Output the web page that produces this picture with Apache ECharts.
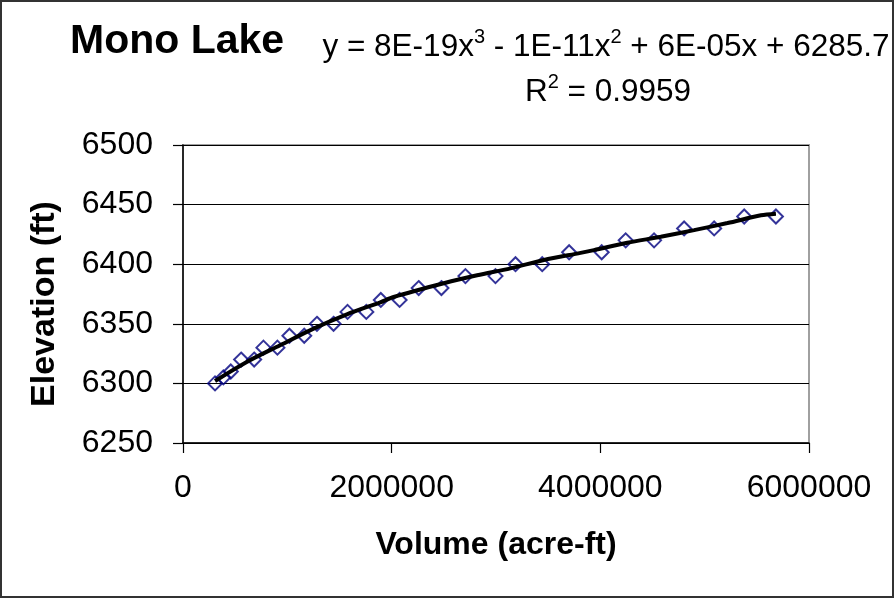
<!DOCTYPE html>
<html>
<head>
<meta charset="utf-8">
<script src="https://cdn.jsdelivr.net/npm/echarts@6/dist/echarts.min.js"></script>
<style>
html,body{margin:0;padding:0;background:#fff;}
#chart{width:894px;height:598px;}
</style>
</head>
<body>
<div id="chart"></div>
<script>
// Observed points: volume (acre-ft) and elevation (ft)
var volumes = [307000, 387000, 458000, 557000, 682000, 771000, 905000, 1020000, 1162000, 1284000, 1443000, 1577000, 1757000, 1896000, 2076000, 2259000, 2477000, 2707000, 2995000, 3187000, 3443000, 3701000, 4013000, 4243000, 4515000, 4803000, 5091000, 5379000, 5683000];
var elevations = [6300, 6305, 6310, 6320, 6320, 6330, 6330, 6340, 6340, 6350, 6350, 6360, 6360, 6370, 6370, 6380, 6380, 6390, 6390, 6400, 6400, 6410, 6410, 6420, 6420, 6430, 6430, 6440, 6440];
// Trend line
var trendVolumes = [307000, 611000, 931000, 1251000, 1571000, 1891000, 2019000, 2499000, 2819000, 3139000, 3459000, 3811000, 3939000, 4259000, 4579000, 4899000, 5219000, 5539000, 5683000];
var trendElevations = [6302, 6318, 6332, 6346, 6358, 6368, 6372.5, 6384, 6390.7, 6396.5, 6403.5, 6409.5, 6411.8, 6418, 6423, 6428.6, 6434.5, 6441, 6442.4];
var xTicks = [0, 2000000, 4000000, 6000000];
var yTicks = [6250, 6300, 6350, 6400, 6450, 6500];

var FONT = "'Liberation Sans', Arial, sans-serif";
var pts = volumes.map(function (v, i) { return [v, elevations[i]]; });
var trend = trendVolumes.map(function (v, i) { return [v, trendElevations[i]]; });

var chart = echarts.init(document.getElementById('chart'), null, {renderer: 'canvas'});
chart.setOption({
  animation: false,
  backgroundColor: '#fff',
  grid: {left: 183, right: 85, top: 145, bottom: 155, show: true, borderColor: '#a0a0a0', borderWidth: 2, backgroundColor: '#fff'},
  xAxis: {
    type: 'value', min: xTicks[0], max: xTicks[xTicks.length - 1], interval: 2000000,
    axisLine: {show: true, onZero: false, lineStyle: {color: '#000', width: 1.5}},
    axisTick: {show: true, inside: false, length: 10, lineStyle: {color: '#000', width: 1.2}},
    axisLabel: {color: '#000', fontSize: 32, fontFamily: FONT, margin: 29, formatter: function (v) { return String(v); }},
    splitLine: {show: false}
  },
  yAxis: {
    type: 'value', min: yTicks[0], max: yTicks[yTicks.length - 1], interval: 50,
    axisLine: {show: true, onZero: false, lineStyle: {color: '#000', width: 1.5}},
    axisTick: {show: true, inside: false, length: 10, lineStyle: {color: '#000', width: 1.2}},
    axisLabel: {color: '#000', fontSize: 32, fontFamily: FONT, margin: 30, formatter: function (v) { return String(v); }},
    splitLine: {show: true, lineStyle: {color: '#000', width: 1}}
  },
  series: [
    {
      type: 'scatter', data: pts, symbol: 'diamond', symbolSize: [14, 14], z: 2,
      itemStyle: {color: 'rgba(0,0,0,0)', borderColor: '#000080', borderWidth: 2}
    },
    {
      type: 'line', data: trend, smooth: 0.3, showSymbol: false, z: 3,
      lineStyle: {color: '#000', width: 4}
    }
  ],
  graphic: [
    {type: 'rect', shape: {x: 1, y: 1, width: 892, height: 596}, style: {fill: 'none', stroke: '#333', lineWidth: 2}, silent: true},
    {type: 'text', left: 70, top: 21, style: {text: 'Mono Lake', font: 'bold 41px ' + FONT, fill: '#000'}},
    {type: 'text', x: 606, y: 45, style: {
      text: '{n|y = 8E-19x}{s|3}{n| - 1E-11x}{s|2}{n| + 6E-05x + 6285.7}',
      align: 'center', verticalAlign: 'middle',
      rich: {
        n: {fontSize: 31.5, fontFamily: FONT, fill: '#000', lineHeight: 36, verticalAlign: 'bottom'},
        s: {fontSize: 20, fontFamily: FONT, fill: '#000', lineHeight: 36, verticalAlign: 'top'}
      }
    }},
    {type: 'text', x: 608, y: 90, style: {
      text: '{n|R}{s|2}{n| = 0.9959}',
      align: 'center', verticalAlign: 'middle',
      rich: {
        n: {fontSize: 31.5, fontFamily: FONT, fill: '#000', lineHeight: 36, verticalAlign: 'bottom'},
        s: {fontSize: 20, fontFamily: FONT, fill: '#000', lineHeight: 36, verticalAlign: 'top'}
      }
    }},
    {type: 'text', x: 496, y: 545, style: {text: 'Volume (acre-ft)', font: 'bold 32px ' + FONT, fill: '#000', align: 'center', verticalAlign: 'middle'}},
    {type: 'text', x: 45, y: 304, rotation: Math.PI / 2, style: {text: 'Elevation (ft)', font: 'bold 34px ' + FONT, fill: '#000', align: 'center', verticalAlign: 'middle'}}
  ]
});
</script>
</body>
</html>
